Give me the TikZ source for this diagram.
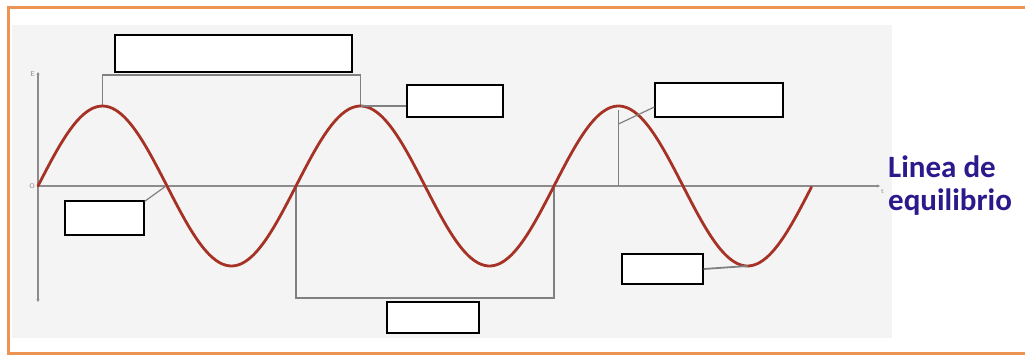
\documentclass[tikz,border=0pt]{standalone}
\usepackage{fontspec}
\newfontfamily\labelfont{Carlito}
\usetikzlibrary{arrows.meta}
\definecolor{frameorange}{RGB}{236,148,84}
\definecolor{panelgray}{RGB}{244,244,244}
\definecolor{wavered}{RGB}{165,50,36}
\definecolor{axisgray}{RGB}{140,140,140}
\definecolor{leadgray}{RGB}{128,128,128}
\definecolor{eqblue}{RGB}{44,26,140}
\tikzset{
  blank/.style={draw=black, fill=white, line width=1.3pt, inner sep=0pt, minimum width=#1},
  blank/.default=80pt,
  axisline/.style={draw=axisgray, line width=1.1pt},
  lead/.style={draw=leadgray, line width=1.4pt},
  wave/.style={draw=wavered, line width=2.8pt, line cap=round},
  tinylabel/.style={text=axisgray, font=\sffamily\fontsize{7}{8}\selectfont, inner sep=0pt},
  eqlabel/.style={text=eqblue, font=\labelfont\bfseries\fontsize{31}{33}\selectfont, inner sep=0pt, anchor=base west}
}
\begin{document}
\begin{tikzpicture}[x=1pt, y=-1pt]
  \useasboundingbox (0,0) rectangle (1025,356);
  % frame and panel
  \fill[white] (0,0) rectangle (1025,356);
  \draw[frameorange, line width=3pt] (1030,7) -- (8,7) -- (8,353) -- (1030,353);
  \fill[panelgray] (12,25) rectangle (892,338);
  % axes
  \coordinate (O) at (38,186);
  \coordinate (Etop) at (38,72);
  \coordinate (Ebot) at (38,302);
  \coordinate (tend) at (880,186);
  \draw[axisline, {Stealth[length=3pt,width=3pt]}-{Stealth[length=3pt,width=3pt]}] (Ebot) -- (Etop);
  \draw[axisline, -{Stealth[length=3pt,width=3pt]}] (O) -- (tend);
  \node[tinylabel, anchor=east] (lblE) at (35,74) {E};
  \node[tinylabel, anchor=east] (lblO) at (35,186) {O};
  \node[tinylabel, anchor=north west] (lblt) at (881,189) {t};
  % key points on the wave
  \coordinate (pk1) at (102.5,106);
  \coordinate (pk2) at (360.5,106);
  \coordinate (pk3) at (618.5,106);
  \coordinate (z1) at (166,186);
  \coordinate (z2) at (296,186);
  \coordinate (z4) at (554,186);
  \coordinate (tr3) at (747.5,266);
  \coordinate (amp) at (618.5,124);
  \coordinate (amptop) at (618.5,110);
  % brackets and leaders
  \draw[lead] (pk1) -- (102.5,75) -- (360.5,75) -- (pk2);
  \draw[lead] (z2) -- (296,298) -- (554,298) -- (z4);
  \draw[lead] (amptop) -- (O -| amptop);
  % wave
  \draw[wave] plot[variable=\t, domain=0:3, samples=240, smooth] ({38+258*\t}, {186-80*sin(360*\t)});
  % boxes
  \node[blank=237pt, minimum height=37pt] (b1) at (233.5,53.5) {};
  \node[blank=96pt, minimum height=32pt] (b2) at (455,101) {};
  \node[blank=128pt, minimum height=34pt] (b3) at (719,100) {};
  \node[blank=79pt, minimum height=34pt] (b4) at (104.5,218) {};
  \node[blank=92pt, minimum height=31pt] (b5) at (433,317.5) {};
  \node[blank=81pt, minimum height=30pt] (b6) at (662.5,269) {};
  % connectors to boxes
  \draw[lead] (pk2) -- (pk2 -| b2.west);
  \draw[lead, line width=1.2pt] (amp) -- ([yshift=-7pt]b3.west);
  \draw[lead, line width=1.2pt] ([yshift=-1pt]b4.north east) -- (z1);
  \draw[lead, line width=1.8pt] (b6.east) -- (tr3);
  % equilibrium label
  \node[eqlabel] (eq1) at (888,177) {Linea de};
  \node[eqlabel] (eq2) at (888,210) {equilibrio};
\end{tikzpicture}
\end{document}
